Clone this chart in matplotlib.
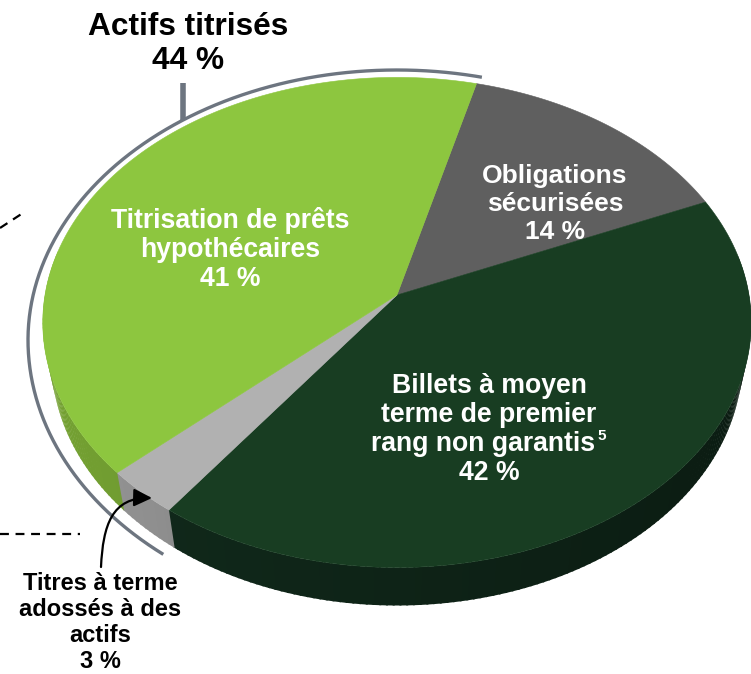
"""
Pie of funding sources, drawn as a tilted disc with an extruded rim.
"""
import numpy as np
import matplotlib
matplotlib.use('Agg')
import matplotlib.pyplot as plt
from matplotlib.patches import FancyArrowPatch
from matplotlib.path import Path

plt.rcParams['font.family'] = ['Liberation Sans', 'DejaVu Sans']

# ============================================================
# Data
# ============================================================
shares = [14.4, 41.6, 3.1, 40.9]
face_colors = ['#5f5f5f', '#183d22', '#b1b1b1', '#8dc63f']
side_colors = ['#4a4a4a', '#10281a', '#8f8f8f', '#6f9a30']
start_angle = 14.5

# Projection of the unit disc on the picture (pixels)
apex_x, apex_y = 397, 295
A, B, k = 352, 242, 0.112
depth = 38
shrink = 0.975


def project(theta):
    # theta in degrees, clockwise from the top of the disc
    t = np.radians(theta)
    u, v = np.sin(t), np.cos(t)
    w = 1 + k * v
    return apex_x + A * u / w, apex_y - B * v / w


def shade(color, f):
    rgb = np.array(matplotlib.colors.to_rgb(color))
    return tuple(np.clip(rgb * f, 0, 1))


fig = plt.figure(figsize=(7.51, 6.74), dpi=100)
ax = fig.add_axes([0, 0, 1, 1])
ax.set_xlim(0, 751)
ax.set_ylim(674, 0)
ax.axis('off')

# ============================================================
# Rim, then the top face
# ============================================================
edges = start_angle + np.cumsum([0] + shares) * 3.6
for i in range(len(shares)):
    a0, a1 = edges[i], edges[i + 1]
    th = np.append(np.arange(a0, a1, 1.0), a1)
    for t0, t1 in zip(th[:-1], th[1:]):
        # only the near half of the rim shows
        if t0 < 80 or t0 > 280:
            continue
        x, y = project(np.array([t0, t1 + 0.3]))
        # the lower rim is a little narrower than the face
        xb = apex_x + shrink * (x - apex_x)
        # darker toward the right of the picture
        f = 1.05 - 0.35 * (x.mean() - 43) / 707
        ax.fill([x[0], x[1], xb[1], xb[0]],
                [y[0], y[1], y[1] + depth, y[0] + depth],
                color=shade(side_colors[i], f), lw=0, zorder=1)

for i in range(len(shares)):
    th = np.linspace(edges[i], edges[i + 1], 120)
    x, y = project(th)
    ax.fill(np.r_[apex_x, x], np.r_[apex_y, y], color=face_colors[i],
            lw=0.4, zorder=2)

# ============================================================
# Bracket around the securitised assets
# ============================================================
phi = np.radians(np.linspace(219.3, 373.3, 300))
bx = 397 + 369 * np.sin(phi)
by = 340 - np.where(np.cos(phi) > 0, 270, 277) * np.cos(phi)
ax.plot(bx, by, color='#6d7580', lw=2.4, zorder=3, solid_capstyle='butt')
ax.plot([183, 183], [83, 120], color='#6d7580', lw=4, zorder=3,
        solid_capstyle='butt')

# Dashed leaders on the left
ax.plot([0, 80], [534, 534], color='black', lw=1.6, ls=(0, (4, 3)), zorder=3)
ax.plot([0, 26], [228, 211], color='black', lw=1.6, ls=(0, (4, 3)), zorder=3)

# Curved arrow to the small slice
arrow_path = Path([(101, 567), (103, 525), (112, 497), (152, 498)],
                  [Path.MOVETO, Path.CURVE4, Path.CURVE4, Path.CURVE4])
ax.add_patch(FancyArrowPatch(path=arrow_path,
                             arrowstyle='-|>,head_length=0.55,head_width=0.27',
                             mutation_scale=20, color='black', lw=1.6,
                             shrinkA=0, shrinkB=0, zorder=5))

# ============================================================
# Labels
# ============================================================
ax.text(188, 27, 'Actifs titrisés', fontsize=22.8, fontweight='bold',
        ha='center', va='center', color='black')
ax.text(188, 61, '44 %', fontsize=22.8, fontweight='bold',
        ha='center', va='center', color='black')


def label(x, y, lines, size, color='white', step=33.5):
    for j, s in enumerate(lines):
        ax.text(x, y + j * step, s, fontsize=size, fontweight='bold',
                ha='center', va='center', color=color, zorder=6)


label(230, 221, ['Titrisation de prêts', 'hypothécaires', '41 %'], 19.2, step=29)
label(555, 176, ['Obligations', 'sécurisées', '14 %'], 19, step=28)
label(489, 386, ['Billets à moyen', 'terme de premier', '', '42 %'], 19.2, step=29)
ax.text(483, 444, 'rang non garantis', fontsize=19.2, fontweight='bold',
        ha='center', va='center', color='white', zorder=6)
ax.text(602, 436, '5', fontsize=11, fontweight='bold',
        ha='center', va='center', color='white', zorder=6)
label(100, 584, ['Titres à terme', 'adossés à des', 'actifs', '3 %'], 17, 'black',
      step=26)

plt.savefig('out.png', dpi=100)
plt.close()
